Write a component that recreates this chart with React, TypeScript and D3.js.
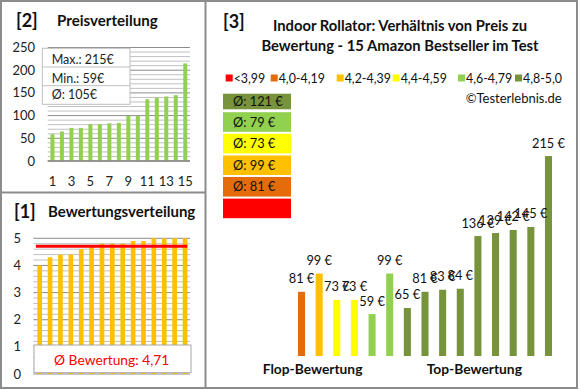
import React from "react";
import * as d3 from "d3";

// ---------- data ----------
const priceRanks = [1, 2, 3, 4, 5, 6, 7, 8, 9, 10, 11, 12, 13, 14, 15];
const sortedPrices = [59, 65, 73, 73, 81, 81, 83, 84, 99, 99, 136, 139, 142, 145, 215];
const sortedRatings = [4.0, 4.3, 4.4, 4.4, 4.6, 4.7, 4.8, 4.8, 4.8, 4.9, 4.9, 5.0, 5.0, 5.0, 5.0];
const productPrices = [81, 99, 73, 73, 59, 99, 65, 81, 83, 84, 136, 139, 142, 145, 215];
const productRatings = [4.0, 4.3, 4.4, 4.4, 4.6, 4.7, 4.8, 4.8, 4.8, 4.9, 4.9, 5.0, 5.0, 5.0, 5.0];
const bandLabels = ["<3,99", "4,0-4,19", "4,2-4,39", "4,4-4,59", "4,6-4,79", "4,8-5,0"];
const bandMins = [0, 4.0, 4.2, 4.4, 4.6, 4.8];
const bandColors = ["#FF0000", "#E46C0A", "#FFC000", "#FFFF00", "#92D050", "#77933C"];
const priceTicks = [0, 50, 100, 150, 200, 250];
const ratingTicks = [0, 1, 2, 3, 4, 5];
const titleLines = [
  "Indoor Rollator: Verhältnis von Preis zu",
  "Bewertung - 15 Amazon Bestseller im Test",
];

const FONT = "Lato, 'Open Sans', sans-serif";
const BORDER = "#8C8C8C";
const GRID_MAJOR = "#8C8C8C";
const GRID_MINOR = "#C0C0C0";

const bandOf = (r: number) => {
  let b = 0;
  bandMins.forEach((m, i) => {
    if (r >= m - 1e-9) b = i;
  });
  return b;
};
const fmt = (v: number) => String(v).replace(".", ",");

export default function App() {
  // ----- Panel 2: price distribution -----
  const px = d3.scaleBand<number>().domain(priceRanks).range([47.7, 190]).paddingInner(0.58).paddingOuter(0.29);
  const py = d3.scaleLinear().domain([0, 250]).range([161, 47.5]);
  const pMinor = d3.range(0, 251, 10);
  const maxP = d3.max(sortedPrices)!;
  const minP = d3.min(sortedPrices)!;
  const avgP = Math.round(d3.mean(sortedPrices)!);

  // ----- Panel 1: rating distribution -----
  const rx = d3.scaleBand<number>().domain(priceRanks).range([34.5, 190.2]).paddingInner(0.55).paddingOuter(0.275);
  const ry = d3.scaleLinear().domain([0, 5]).range([374, 238.3]);
  const rMinor = d3.range(0, 5.001, 0.2);
  const avgR = d3.mean(sortedRatings)!;

  // ----- Panel 3: main chart -----
  const mx = d3.scaleBand<number>().domain(priceRanks).range([292.7, 557.3]).paddingInner(0.6).paddingOuter(0.3);
  const my = d3.scaleLinear().domain([17.6, 250]).range([356, 120.6]);
  const bandAvg = bandLabels.map((_, b) => {
    const vals = productPrices.filter((_, i) => bandOf(productRatings[i]) === b);
    return vals.length ? Math.round(d3.mean(vals)!) : null;
  });
  const boxOrder = [5, 4, 3, 2, 1, 0];
  const legendX = [225.7, 270.7, 336.7, 392.7, 458, 515];

  return (
    <svg
      width={580}
      height={390}
      style={{ position: "absolute", left: 0, top: 0, background: "#fff" }}
      fontFamily={FONT}
    >
      <rect x={0} y={0} width={580} height={390} fill="#fff" />

      {/* ===== Panel 2 ===== */}
      <text x={16} y={26.5} fontSize={18} fontWeight="bold" fill="#111">[2]</text>
      <text x={57} y={25.5} fontSize={15.1} fontWeight="bold" fill="#111">Preisverteilung</text>
      {pMinor.map((t) => (
        <line key={"pg" + t} x1={47.7} x2={190} y1={py(t)} y2={py(t)}
          stroke={t % 50 === 0 ? GRID_MAJOR : GRID_MINOR} strokeWidth={1} />
      ))}
      {sortedPrices.map((v, i) => (
        <rect key={"pb" + i} x={px(priceRanks[i])} y={py(v)} width={px.bandwidth()} height={py(0) - py(v)} fill="#92D050" />
      ))}
      <line x1={47.7} x2={190} y1={py(0)} y2={py(0)} stroke="#868686" strokeWidth={1.3} />
      {priceTicks.map((t) => (
        <text key={"pt" + t} x={35} y={py(t) + 4.5} fontSize={13} textAnchor="end" fill="#222">{t}</text>
      ))}
      {priceRanks.filter((r) => r % 2 === 1).map((r) => (
        <text key={"pxl" + r} x={px(r)! + px.bandwidth() / 2} y={186} fontSize={13} textAnchor="middle" fill="#222">{r}</text>
      ))}
      <g>
        <rect x={42.3} y={48.3} width={87.7} height={56} fill="#fff" stroke="#BFBFBF" strokeWidth={1} />
        <line x1={42.3} x2={130} y1={67} y2={67} stroke="#BFBFBF" />
        <line x1={42.3} x2={130} y1={85.7} y2={85.7} stroke="#BFBFBF" />
        <text x={51.7} y={63.8} fontSize={12.5} fill="#222">{`Max.: ${maxP}€`}</text>
        <text x={51.7} y={83} fontSize={12.5} fill="#222">{`Min.: ${minP}€`}</text>
        <text x={51.7} y={99} fontSize={12.5} fill="#222">{`Ø: ${avgP}€`}</text>
      </g>

      {/* ===== Panel 1 ===== */}
      <text x={14} y={218} fontSize={18} fontWeight="bold" fill="#111">[1]</text>
      <text x={48} y={217} fontSize={15} fontWeight="bold" fill="#111">Bewertungsverteilung</text>
      {rMinor.map((t, i) => (
        <line key={"rg" + i} x1={33.3} x2={190} y1={ry(t)} y2={ry(t)}
          stroke={i % 5 === 0 ? GRID_MAJOR : GRID_MINOR} strokeWidth={1} />
      ))}
      {sortedRatings.map((v, i) => (
        <rect key={"rb" + i} x={rx(priceRanks[i])} y={ry(v)} width={rx.bandwidth()} height={ry(0) - ry(v)} fill="#FFC000" />
      ))}
      <line x1={rx(1)! - 1.5} x2={rx(15)! + rx.bandwidth()} y1={ry(avgR)} y2={ry(avgR)} stroke="#FF0000" strokeWidth={3} />
      {ratingTicks.map((t) => (
        <text key={"rt" + t} x={21} y={ry(t) + 4.5} fontSize={13} textAnchor="end" fill="#222">{t}</text>
      ))}
      <rect x={34} y={345} width={157} height={27.7} fill="#fff" stroke="#A6A6A6" strokeWidth={1} />
      <text x={111.7} y={365} fontSize={13.8} textAnchor="middle" fill="#FF0000">{`Ø Bewertung: ${avgR.toFixed(2).replace(".", ",")}`}</text>

      {/* ===== Panel 3 ===== */}
      <text x={223} y={28} fontSize={18} fontWeight="bold" fill="#111">[3]</text>
      {titleLines.map((l, i) => (
        <text key={"tl" + i} x={400} y={31 + i * 20} fontSize={14.8} fontWeight="bold" textAnchor="middle" fill="#111">{l}</text>
      ))}
      {bandLabels.map((lab, i) => (
        <g key={"lg" + i}>
          <rect x={legendX[i]} y={74.5} width={7} height={7} fill={bandColors[i]} />
          <text x={legendX[i] + 8} y={83} fontSize={12.4} fill="#111">{lab}</text>
        </g>
      ))}
      <text x={561.7} y={102.5} fontSize={13} textAnchor="end" fill="#111">©Testerlebnis.de</text>
      {boxOrder.map((b, k) => {
        const top = k === 0 ? 93.7 : 90.6 + k * 21.6;
        const h = k === 0 ? 15.6 : 19.6;
        return (
          <g key={"bx" + b}>
            <rect x={223} y={top} width={68} height={h} fill={bandColors[b]} />
            {bandAvg[b] !== null && (
              <text x={233} y={top + h / 2 + 4.5} fontSize={12.8} fill="#111">{`Ø: ${bandAvg[b]} €`}</text>
            )}
          </g>
        );
      })}
      {productPrices.map((v, i) => (
        <rect key={"mb" + i} x={mx(priceRanks[i])} y={my(v)} width={mx.bandwidth()} height={my(17.6) - my(v)}
          fill={bandColors[bandOf(productRatings[i])]} />
      ))}
      {productPrices.map((v, i) => (
        <text key={"ml" + i} x={mx(priceRanks[i])! + mx.bandwidth() / 2} y={my(v) - 8.5} fontSize={12.8}
          textAnchor="middle" fill="#111">{`${fmt(v)} €`}</text>
      ))}
      <text x={262.7} y={374} fontSize={13.8} fontWeight="bold" fill="#111">Flop-Bewertung</text>
      <text x={426.7} y={374} fontSize={13.8} fontWeight="bold" fill="#111">Top-Bewertung</text>

      {/* ===== Borders ===== */}
      <rect x={1} y={1} width={576} height={387} fill="none" stroke={BORDER} strokeWidth={2} />
      <line x1={205.5} x2={205.5} y1={1} y2={388} stroke={BORDER} strokeWidth={2} />
      <line x1={1} x2={205.5} y1={192.5} y2={192.5} stroke={BORDER} strokeWidth={2} />
    </svg>
  );
}
